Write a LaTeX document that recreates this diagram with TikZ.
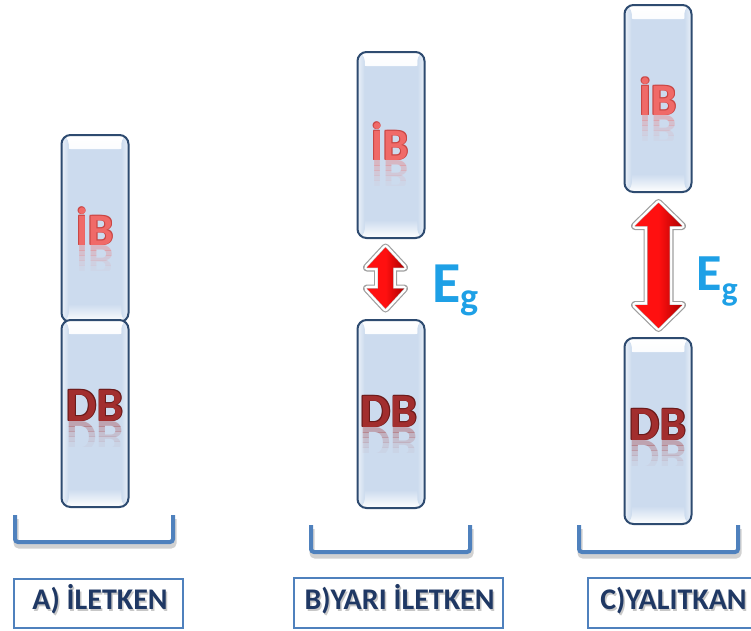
\documentclass[tikz,border=0pt]{standalone}
\usepackage{fontspec}
\setmainfont{Carlito}
\usetikzlibrary{calc}

\definecolor{bandfill}{HTML}{CCDBEE}
\definecolor{bandedge}{HTML}{2E4B70}
\definecolor{ibred}{HTML}{F06A68}
\definecolor{ibedge}{HTML}{C94644}
\definecolor{dbred}{HTML}{A22E2E}
\definecolor{dbedge}{HTML}{6A1A1A}
\definecolor{egblue}{HTML}{1EA0E6}
\definecolor{framecol}{HTML}{4F81BD}
\definecolor{labeltext}{HTML}{1F3864}
\definecolor{arrowred}{HTML}{FF1010}
\definecolor{arrowdark}{HTML}{B00000}

\tikzset{
  band/.style={draw=bandedge, line width=2pt, rounded corners=9pt, fill=bandfill,
    inner sep=0pt, minimum width=67pt,
    path picture={
      \fill[top color=white, bottom color=bandfill]
        (path picture bounding box.north west) rectangle ([yshift=-14pt]path picture bounding box.north east);
      \fill[top color=bandfill, bottom color=white]
        ([yshift=18pt]path picture bounding box.south west) rectangle (path picture bounding box.south east);
      \fill[left color=white!60!bandfill, right color=bandfill]
        (path picture bounding box.north west) rectangle ([xshift=7pt]path picture bounding box.south west);
      \fill[left color=bandfill, right color=white!60!bandfill]
        ([xshift=-7pt]path picture bounding box.north east) rectangle (path picture bounding box.south east);
    }},
  ibtext/.style={font=\fontsize{45}{45}\selectfont\bfseries, text=ibred, inner sep=0pt},
  ibrim/.style={font=\fontsize{45}{45}\selectfont\bfseries, text=ibedge, inner sep=0pt},
  dbtext/.style={font=\fontsize{48}{48}\selectfont\bfseries, text=dbred, inner sep=0pt},
  dbrim/.style={font=\fontsize{48}{48}\selectfont\bfseries, text=dbedge, inner sep=0pt},
  bracketline/.style={draw=framecol, line width=4pt, rounded corners=3pt},
  bracketshade/.style={draw=black, opacity=0.18, line width=5pt, rounded corners=3pt},
  labelbox/.style={draw=framecol, line width=2.5pt, fill=white, inner sep=0pt},
  labeltxt/.style={font=\fontsize{30}{30}\selectfont\bfseries, text=labeltext, inner sep=0pt},
  labelshade/.style={font=\fontsize{30}{30}\selectfont\bfseries, text=black, opacity=0.22, inner sep=0pt},
}

% text on a band: thin darker rim, and a fading mirror image under its baseline
\newcommand\bandtext[6]{%
  \foreach \k/\op in {0/0.32,1/0.24,2/0.16,3/0.09,4/0.04} {
    \begin{scope}
      \clip (#2-40,#3+\k*5) rectangle (#2+40,#3+\k*5+5);
      \node[#4, anchor=base, opacity=\op] (#1-mirror\k) at (#2,#3) {\scalebox{1}[-1]{#6}};
    \end{scope}}
  \foreach \dx/\dy [count=\i] in {-0.6/-0.6, 0.6/-0.6, -0.6/0.6, 0.6/0.6} {
    \node[#5, anchor=base] (#1-rim\i) at (#2+\dx,#3+\dy) {#6};}
  \node[#4, anchor=base] (#1) at (#2,#3) {#6};
}

% one layer of the two-headed gap arrow between two tip coordinates
\newcommand\gaplayer[6]{%
  \path[#1] let \p1=(#2), \p2=(#3) in
    (\x1,\y1) -- (\x1+#4,\y1-#6) -- (\x1+#5,\y1-#6) -- (\x1+#5,\y2+#6) --
    (\x1+#4,\y2+#6) -- (\x1,\y2) -- (\x1-#4,\y2+#6) -- (\x1-#5,\y2+#6) --
    (\x1-#5,\y1-#6) -- (\x1-#4,\y1-#6) -- cycle;}
\newcommand\gaparrow[5]{%
  \gaplayer{draw=gray!75, line width=8pt, line join=round}{#1}{#2}{#3}{#4}{#5}
  \gaplayer{draw=white, line width=5.6pt, line join=round}{#1}{#2}{#3}{#4}{#5}
  \gaplayer{draw=gray!55, line width=1pt, line join=round}{#1}{#2}{#3}{#4}{#5}
  \gaplayer{left color=arrowred, right color=arrowdark, middle color=arrowred}{#1}{#2}{#3}{#4}{#5}}

\begin{document}
\begin{tikzpicture}[x=1pt, y=-1pt]
  \path[use as bounding box] (0,0) rectangle (751,630);
  \clip (0,0) rectangle (751,630);

  % ---- A) conductor: bands touch
  \node[band, minimum height=187pt] (ibA) at (95,228.5) {};
  \node[band, minimum height=187pt] (dbA) at (95,413.5) {};
  \bandtext{ibAt}{95}{245}{ibtext}{ibrim}{İB}
  \bandtext{dbAt}{95}{421}{dbtext}{dbrim}{DB}

  % ---- B) semiconductor: small gap
  \node[band, minimum height=186pt] (ibB) at (391,145) {};
  \node[band, minimum height=188pt] (dbB) at (391,414) {};
  \bandtext{ibBt}{390}{160}{ibtext}{ibrim}{İB}
  \bandtext{dbBt}{389}{427}{dbtext}{dbrim}{DB}
  \coordinate (tB) at ($(ibB.south)+(-5.5,8.5)$);
  \coordinate (bB) at ($(dbB.north)+(-5.5,-10.5)$);
  \gaparrow{tB}{bB}{18.5pt}{7.5pt}{20pt}
  \node[anchor=base west, inner sep=0pt, text=egblue] (egB) at (432.5,302)
    {\fontsize{58}{58}\selectfont\bfseries E\raisebox{-7pt}{\fontsize{38}{38}\selectfont g}};

  % ---- C) insulator: wide gap
  \node[band, minimum height=187pt] (ibC) at (658,98.5) {};
  \node[band, minimum height=186pt] (dbC) at (658,431) {};
  \bandtext{ibCt}{658}{115}{ibtext}{ibrim}{İB}
  \bandtext{dbCt}{658}{440}{dbtext}{dbrim}{DB}
  \coordinate (tC) at ($(ibC.south)+(0.5,10)$);
  \coordinate (bC) at ($(dbC.north)+(0.5,-9)$);
  \gaparrow{tC}{bC}{23.5pt}{11pt}{23pt}
  \node[anchor=base west, inner sep=0pt, text=egblue] (egC) at (696,290)
    {\fontsize{52}{52}\selectfont\bfseries E\raisebox{-10pt}{\fontsize{34}{34}\selectfont g}};

  % ---- brackets
  \foreach \n/\l/\r/\t/\b in {A/15/173/515/542, B/311/470/525/552, C/579/738/525/552} {
    \coordinate (br\n tl) at (\l,\t);
    \coordinate (br\n bl) at (\l,\b);
    \coordinate (br\n br) at (\r,\b);
    \coordinate (br\n tr) at (\r,\t);
    \draw[bracketshade] ($(br\n tl)+(1,4)$) -- ($(br\n bl)+(1,4)$) -- ($(br\n br)+(1,4)$) -- ($(br\n tr)+(1,4)$);
    \draw[bracketline] (br\n tl) -- (br\n bl) -- (br\n br) -- (br\n tr);
  }

  % ---- captions
  \node[labelbox, minimum width=169pt, minimum height=49pt] (labA) at (98.5,603.5) {};
  \node[labelbox, minimum width=209pt, minimum height=50pt] (labB) at (398.5,603) {};
  \node[labelbox, minimum width=172pt, minimum height=50pt] (labC) at (674,603) {};
  \foreach \n/\x/\txt in {A/100/{A) İLETKEN}, B/399.5/{B)YARI İLETKEN}, C/673.5/{C)YALITKAN}} {
    \node[labelshade, anchor=base] (cap\n s) at (\x+1.5,611) {\txt};
    \node[labeltxt, anchor=base] (cap\n) at (\x,609.5) {\txt};
  }
\end{tikzpicture}
\end{document}
